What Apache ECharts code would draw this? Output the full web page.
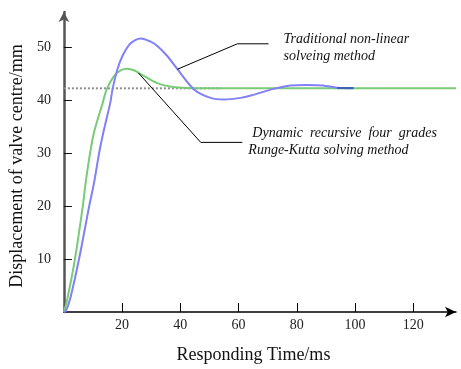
<!DOCTYPE html>
<html>
<head>
<meta charset="utf-8">
<script src="https://cdn.jsdelivr.net/npm/echarts@6/dist/echarts.min.js"></script>
<style>
  html, body { margin: 0; padding: 0; background: #fff; }
  #chart { width: 461px; height: 369px; }
</style>
</head>
<body>
<div id="chart"></div>
<script>
// time (ms), displacement (mm)
const traditional = [
  [0, 0], [0.7, 0.2], [2.2, 2.6], [5.2, 10], [8.7, 20], [10.4, 24.5], [12.1, 30],
  [13.6, 34], [15.9, 39.4], [16.7, 42], [18.4, 45.8], [20.1, 48.3], [22.4, 50.4],
  [24.5, 51.3], [26.4, 51.6], [29.8, 51], [32.1, 50.2], [35.5, 48.3], [39, 45.8],
  [44.7, 42], [50.4, 40.4], [55, 40.1], [60.7, 40.4], [64, 40.8], [72, 42.1],
  [77.8, 42.75], [83.5, 42.85], [89, 42.75], [93.8, 42.3], [99.5, 42.2]
];
const rungeKutta = [
  [0, 0], [1, 2], [3.8, 10], [6.5, 20], [7.5, 24.5], [9, 30], [10.4, 34],
  [13.3, 39.4], [14.7, 42], [17.2, 44.5], [19.5, 45.6], [21.8, 45.9], [24, 45.6],
  [26.4, 44.9], [29.8, 43.8], [33, 43.0], [37, 42.5], [42, 42.25], [48, 42.2], [134.7, 42.2]
];
const overlapTail = [[93.8, 42.25], [99.5, 42.25]];
const steadyRef = [[0, 42.2], [54, 42.2]];

// leader lines for the annotations (data units)
const leaderTraditional = [[39, 45.8], [59.6, 50.6], [70.3, 50.6]];
const leaderRK = [[25.6, 45.1], [47.0, 32.0], [61.3, 32.0]];

const yTicks = [10, 20, 30, 40, 50];
const xTicks = [20, 40, 60, 80, 100, 120];

const serif = "'Liberation Serif', 'Times New Roman', serif";

const chart = echarts.init(document.getElementById("chart"), null, { renderer: "canvas" });

function leader(data, text, opts) {
  return {
    type: "line",
    data: data,
    symbol: "none",
    silent: true,
    z: 5,
    lineStyle: { color: "#000", width: 1 },
    label: { show: false },
    endLabel: {
      show: true,
      formatter: text,
      distance: opts.distance,
      offset: opts.offset,
      fontFamily: serif,
      fontStyle: "italic",
      fontSize: 14,
      lineHeight: 17,
      color: "#111",
      align: "left",
      rich: opts.rich || {}
    }
  };
}

chart.setOption({
  animation: false,
  grid: { left: 63, top: 12, right: 5, bottom: 55 },
  xAxis: {
    type: "value",
    min: 0,
    max: 134.7,
    interval: 20,
    name: "Responding Time/ms",
    nameLocation: "middle",
    nameGap: 34,
    nameTextStyle: { fontFamily: serif, fontSize: 18, color: "#111", padding: [0, 13, 0, 0] },
    axisLine: { lineStyle: { color: "#000", width: 1.5 }, symbol: ["none", "arrow"], symbolSize: [8, 11] },
    axisTick: { inside: true, length: 9, customValues: xTicks, lineStyle: { color: "#000", width: 1 } },
    axisLabel: { customValues: xTicks, fontFamily: serif, fontSize: 14, color: "#222", margin: 6 },
    splitLine: { show: false }
  },
  yAxis: {
    type: "value",
    min: 0,
    max: 56.6,
    interval: 10,
    name: "Displacement of valve centre/mm",
    nameLocation: "middle",
    nameGap: 36,
    nameTextStyle: { fontFamily: serif, fontSize: 18, color: "#111", padding: [0, 8, 0, 0] },
    axisLine: { lineStyle: { color: "#555", width: 2.5 }, symbol: ["none", "arrow"], symbolSize: [8, 10] },
    axisTick: { inside: true, length: 8, customValues: yTicks, lineStyle: { color: "#111", width: 1 } },
    axisLabel: { customValues: yTicks, fontFamily: serif, fontSize: 14, color: "#222", margin: 13 },
    splitLine: { show: false }
  },
  series: [
    {
      type: "line",
      data: steadyRef,
      symbol: "none",
      lineStyle: { color: "#8c8c8c", width: 2, type: "dotted" }
    },
    {
      type: "line",
      data: rungeKutta,
      symbol: "none",
      smooth: 0.3,
      lineStyle: { color: "#78cc78", width: 2 }
    },
    {
      type: "line",
      data: traditional,
      symbol: "none",
      smooth: 0.3,
      lineStyle: { color: "#8080f8", width: 2 }
    },
    {
      type: "line",
      data: overlapTail,
      symbol: "none",
      lineStyle: { color: "#3c62b4", width: 2 }
    },
    leader(leaderTraditional, "Traditional non-linear\nsolveing method", { distance: 15, offset: [0, 4.5] }),
    leader(leaderRK, "{a|Dynamic  recursive  four  grades}\nRunge-Kutta solving method", {
      distance: 6, offset: [0, -1],
      rich: { a: { fontFamily: serif, fontStyle: "italic", fontSize: 14, lineHeight: 17, color: "#111", padding: [0, 0, 0, 4] } }
    })
  ]
});
</script>
</body>
</html>
